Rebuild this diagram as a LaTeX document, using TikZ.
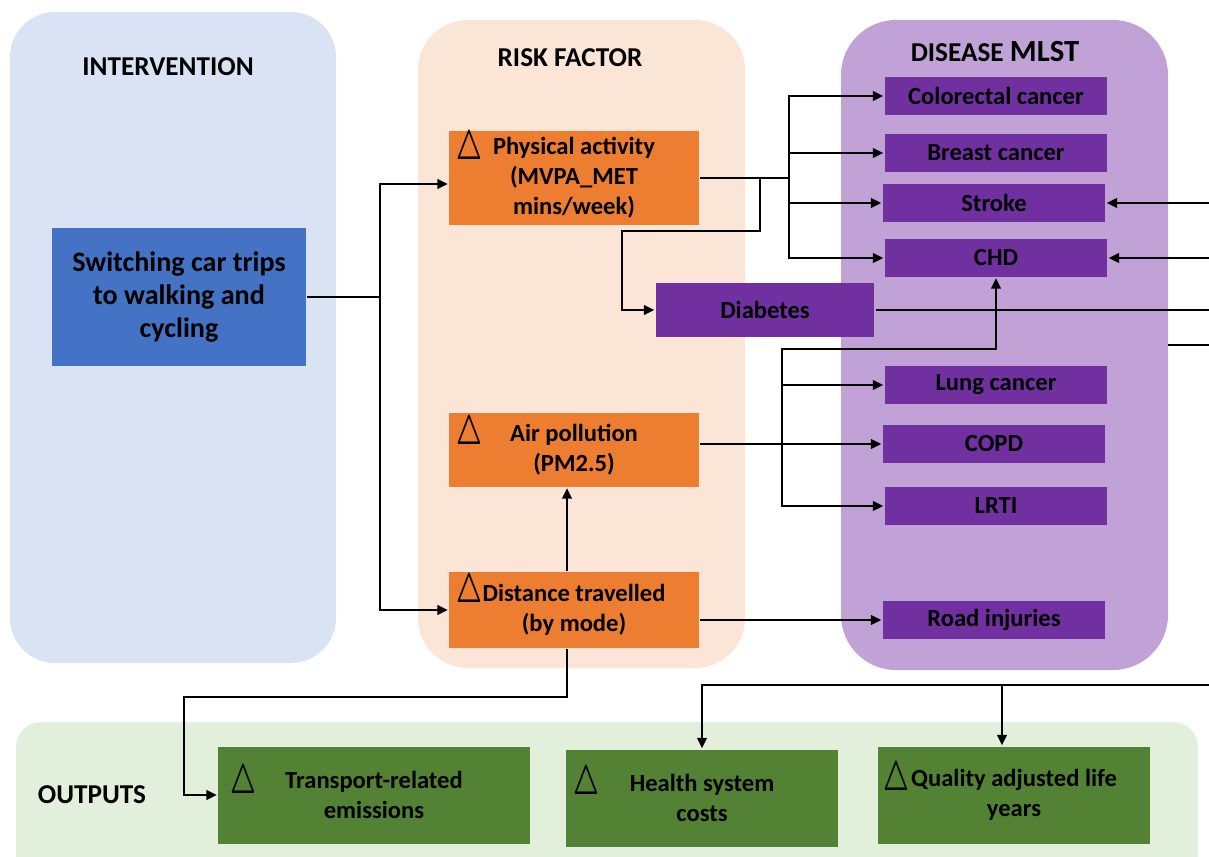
\documentclass[tikz,border=0pt]{standalone}
\usepackage{fontspec}
\setmainfont{Carlito}
\usepackage{tikz}
\usetikzlibrary{positioning,arrows.meta,calc}
\definecolor{ivback}{HTML}{DAE3F3}
\definecolor{rfback}{HTML}{FBE5D6}
\definecolor{dsback}{HTML}{C0A2D6}
\definecolor{opback}{HTML}{E2EFDA}
\definecolor{ivblue}{HTML}{4472C4}
\definecolor{rforange}{HTML}{ED7D31}
\definecolor{dspurple}{HTML}{7030A0}
\definecolor{opgreen}{HTML}{548235}
\newcommand{\dtri}{\scalebox{1}[1.65]{\boldmath$\triangle$}}
\tikzstyle{iv}=[%
      rectangle, fill=ivblue, minimum width=5.08cm, minimum height=2.76cm,
      inner sep=0pt, align=center, font=\bfseries\fontsize{16}{19}\selectfont
]
\tikzstyle{rf}=[%
      rectangle, fill=rforange, minimum width=5cm,
      inner sep=0pt, align=center, font=\bfseries\fontsize{14}{17}\selectfont
]
\tikzstyle{ds}=[%
      rectangle, fill=dspurple, minimum width=4.46cm, minimum height=0.76cm,
      inner sep=0pt, align=center, font=\bfseries\fontsize{14}{17}\selectfont
]
\tikzstyle{op}=[%
      rectangle, fill=opgreen, minimum height=1.94cm,
      inner sep=0pt, align=center, font=\bfseries\fontsize{14}{17}\selectfont
]
\tikzstyle{ttl}=[font=\bfseries\fontsize{15.5}{18}\selectfont]
\tikzstyle{dl}=[inner sep=0pt, font=\fontsize{14}{17}\selectfont]

\begin{document}
\begin{tikzpicture}[x=0.02cm, y=-0.02cm,
    line width=1.3pt,
    >={Triangle[length=6pt,width=5.5pt]}
  ]
    \useasboundingbox (0,0) rectangle (1209,856);
    % panels
    \fill[ivback, rounded corners=0.9cm] (10,12) rectangle (336,663);
    \fill[rfback, rounded corners=1cm] (418,20) rectangle (745,668);
    \fill[dsback, rounded corners=1.1cm] (841,20) rectangle (1168,670);
    \fill[opback, rounded corners=0.5cm] (16,722) rectangle (1198,880);

    \node[ttl] (ivt) at (168,67) {INTERVENTION};
    \node[ttl] (rft) at (570,58) {RISK FACTOR};
    \node[ttl] (dst) at (995,52) {DISEASE {\fontsize{17.5}{20}\selectfont MLST}};
    \node[ttl] (opt) at (92,795) {OUTPUTS};

    \node[iv] (sw) at (179,297) {Switching car trips\\to walking and\\cycling};

    \node[rf, minimum height=1.88cm] (pa) at (574,178) {Physical activity\\(MVPA\_MET\\mins/week)};
    \node[rf, minimum height=1.48cm] (ap) at (574,450) {Air pollution\\(PM2.5)};
    \node[rf, minimum height=1.52cm] (dt) at (574,610) {Distance travelled\\(by mode)};

    \node[ds] (crc)  at (996,96)  {Colorectal cancer};
    \node[ds] (bc)   at (996,153) {Breast cancer};
    \node[ds] (stk)  at (994,203) {Stroke};
    \node[ds] (chd)  at (996,258) {CHD};
    \node[ds, minimum width=4.38cm, minimum height=1.08cm] (dia) at (765,310) {Diabetes};
    \node[ds] (lc)   at (996,385) {Lung cancer};
    \node[ds] (copd) at (994,444) {COPD};
    \node[ds] (lrti) at (996,506) {LRTI};
    \node[ds] (ri)   at (994,620) {Road injuries};

    \node[op, minimum width=6.24cm] (tre)  at (374,795)  {Transport-related\\emissions};
    \node[op, minimum width=5.44cm] (hsc)  at (702,798)  {Health system\\costs};
    \node[op, minimum width=5.46cm] (qaly) at (1014,795) {Quality adjusted life\\years};

    % change markers
    \node[dl] (pad)   at (469,149) {\dtri};
    \node[dl] (apd)   at (469,434) {\dtri};
    \node[dl] (dtd)   at (469,592) {\dtri};
    \node[dl] (tred)  at (243,783) {\dtri};
    \node[dl] (hscd)  at (586,784) {\dtri};
    \node[dl] (qalyd) at (896,780) {\dtri};

    % connectors
    \coordinate (rt)   at (1209,0);
    \coordinate (swj)  at (380,297);
    \coordinate (paj)  at (789,178);
    \coordinate (diaj) at (760,178);
    \coordinate (apj)  at (782,444);
    \coordinate (dsr)  at (1168,345);
    \coordinate (opj)  at (1209,685);
    \coordinate (qj)   at (1002,685);

    \draw (sw.east) -- (swj);
    \draw[->] (swj) |- ([yshift=-0.12cm]pa.west);
    \draw[->] (swj) |- (dt.west);

    \draw (pa.east) -- (paj);
    \draw[->] (paj) |- (crc.west);
    \draw[->] (paj) |- (bc.west);
    \draw[->] (paj) |- (stk.west);
    \draw[->] (paj) |- (chd.west);
    \draw[->] (diaj) |- (622,231) |- (dia.west);

    \draw (dia.east) -- (dia.east -| rt);
    \draw[<-] (stk.east) -- (stk.east -| rt);
    \draw[<-] (chd.east) -- (chd.east -| rt);
    \draw (dsr) -- (dsr -| rt);

    \draw[->] (ap.east |- copd.west) -- (copd.west);
    \draw[->] (apj) |- (lc.west);
    \draw[->] (apj) |- (lrti.west);
    \draw[->] (apj) |- ($(chd.south)+(0,71)$) -- (chd.south);

    \draw[->] ([xshift=-0.14cm]dt.north) -- ([xshift=-0.14cm]ap.south);
    \draw[->] (dt.east |- ri.west) -- (ri.west);
    \draw[->] ([xshift=-0.14cm]dt.south) |- (184,697) |- (tre.west);

    \draw[->] (opj) -| (hsc.north);
    \draw[->] (qj) -- (qj |- qaly.north);
  \end{tikzpicture}
\end{document}
